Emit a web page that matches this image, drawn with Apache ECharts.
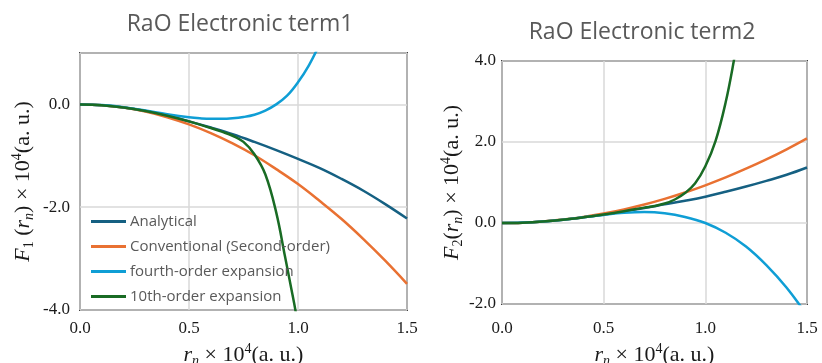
<!DOCTYPE html>
<html>
<head>
<meta charset="utf-8">
<script src="https://cdn.jsdelivr.net/npm/echarts@6.0.0/dist/echarts.min.js"></script>
<style>
html,body{margin:0;padding:0;background:#fff;}
#chart{width:822px;height:363px;}
</style>
</head>
<body>
<div id="chart"></div>
<script>
// ---------- data ----------
const titles = ['RaO Electronic term1', 'RaO Electronic term2'];
const seriesNames = ['Analytical', 'Conventional (Second-order)', 'fourth-order expansion', '10th-order expansion'];
const seriesColors = ['#156082', '#E97132', '#0F9ED5', '#196B24'];

const xTicks = [0.0, 0.5, 1.0, 1.5];
const yTicksLeft = [-4.0, -2.0, 0.0];
const yTicksRight = [-2.0, 0.0, 2.0, 4.0];

// term 1 (left)
const xLeft = [0, 0.1, 0.2, 0.3, 0.4, 0.5, 0.6, 0.7, 0.8, 0.9, 1.0, 1.1, 1.2, 1.3, 1.4, 1.5];
const analyticalLeft = [0, -0.015, -0.06, -0.13, -0.22, -0.33, -0.45, -0.58, -0.73, -0.89, -1.06, -1.24, -1.45, -1.68, -1.94, -2.22];
const conventionalLeft = [0, -0.016, -0.062, -0.14, -0.25, -0.39, -0.56, -0.76, -0.99, -1.26, -1.55, -1.88, -2.23, -2.62, -3.04, -3.49];
const fourthLeftX = [0, 0.1, 0.2, 0.3, 0.4, 0.5, 0.55, 0.6, 0.65, 0.7, 0.75, 0.8, 0.85, 0.9, 0.95, 1.0, 1.05, 1.1, 1.15];
const fourthLeft = [0, -0.014, -0.055, -0.12, -0.19, -0.25, -0.27, -0.28, -0.28, -0.27, -0.245, -0.2, -0.12, 0.0, 0.17, 0.43, 0.76, 1.18, 1.65];
const tenthLeftX = [0, 0.1, 0.2, 0.3, 0.4, 0.5, 0.6, 0.65, 0.7, 0.75, 0.8, 0.85, 0.9, 0.94, 0.97, 0.99, 1.01];
const tenthLeft = [0, -0.015, -0.06, -0.13, -0.22, -0.33, -0.46, -0.53, -0.61, -0.73, -0.97, -1.36, -2.1, -2.95, -3.6, -4.05, -4.6];

// term 2 (right)
const xRight = [0, 0.1, 0.2, 0.3, 0.4, 0.5, 0.6, 0.7, 0.8, 0.9, 1.0, 1.1, 1.2, 1.3, 1.4, 1.5];
const analyticalRight = [0, 0.009, 0.036, 0.08, 0.14, 0.21, 0.29, 0.37, 0.46, 0.55, 0.65, 0.77, 0.9, 1.04, 1.19, 1.37];
const conventionalRight = [0, 0.009, 0.037, 0.084, 0.149, 0.233, 0.335, 0.456, 0.595, 0.753, 0.93, 1.125, 1.34, 1.57, 1.82, 2.09];
const fourthRightX = [0, 0.1, 0.2, 0.3, 0.4, 0.5, 0.6, 0.7, 0.8, 0.9, 1.0, 1.1, 1.2, 1.3, 1.4, 1.5];
const fourthRight = [0, 0.01, 0.038, 0.083, 0.14, 0.2, 0.25, 0.27, 0.24, 0.15, 0.0, -0.24, -0.58, -1.04, -1.6, -2.28];
const tenthRightX = [0, 0.1, 0.2, 0.3, 0.4, 0.5, 0.6, 0.7, 0.75, 0.8, 0.85, 0.9, 0.95, 1.0, 1.05, 1.1, 1.14, 1.17];
const tenthRight = [0, 0.009, 0.036, 0.08, 0.14, 0.21, 0.29, 0.38, 0.42, 0.48, 0.58, 0.74, 0.98, 1.4, 2.02, 2.98, 4.0, 4.9];

// ---------- build ----------
const pairs = (xs, ys) => xs.map((x, i) => [x, ys[i]]);
const SERIF = '"Liberation Serif", "DejaVu Serif", serif';
const SANS = '"Open Sans", "Noto Sans", sans-serif';
const TXT = '#1a1a1a';

function nameRich(size) {
  return {
    n: { fontFamily: SERIF, fontSize: size, color: TXT, lineHeight: 26 },
    i: { fontFamily: SERIF, fontSize: size, fontStyle: 'italic', color: TXT, lineHeight: 26 },
    s: { fontFamily: SERIF, fontSize: Math.round(size * 0.65), color: TXT, verticalAlign: 'bottom', lineHeight: 14 },
    si: { fontFamily: SERIF, fontSize: Math.round(size * 0.65), fontStyle: 'italic', color: TXT, verticalAlign: 'bottom', lineHeight: 14 },
    p: { fontFamily: SERIF, fontSize: Math.round(size * 0.65), color: TXT, verticalAlign: 'top', lineHeight: 13 }
  };
}

const xName = '{i|r}{si|n}{n| × 10}{p|4}{n|(a. u.)}';
const yNameLeft = '{i|F}{s|1}{n| (}{i|r}{si|n}{n|) × 10}{p|4}{n|(a. u.)}';
const yNameRight = '{i|F}{s|2}{n|(}{i|r}{si|n}{n|) × 10}{p|4}{n|(a. u.)}';

const fmt = (allowed) => (v) => allowed.some(t => Math.abs(t - v) < 1e-9) ? v.toFixed(1) : '';

function xAxisCfg(gridIndex, margin, gap) {
  return {
    type: 'value', gridIndex, min: 0, max: 1.5, interval: 0.5,
    axisLine: { show: false }, axisTick: { show: false },
    axisLabel: { margin, fontFamily: SERIF, fontSize: 17, color: TXT, formatter: fmt(xTicks) },
    splitLine: { show: true, lineStyle: { color: '#d9d9d9', width: 1.5 } },
    name: xName, nameLocation: 'middle', nameGap: gap,
    nameTextStyle: { fontFamily: SERIF, fontSize: 22, color: TXT, rich: nameRich(22) }
  };
}
function yAxisCfg(gridIndex, min, max, ticks, name, margin, gap) {
  return {
    type: 'value', gridIndex, min, max, interval: 2,
    axisLine: { show: false }, axisTick: { show: false },
    axisLabel: { margin, fontFamily: SERIF, fontSize: 17, color: TXT, formatter: fmt(ticks) },
    splitLine: { show: true, lineStyle: { color: '#d9d9d9', width: 1.5 } },
    name, nameLocation: 'middle', nameRotate: 90, nameGap: gap,
    nameTextStyle: { fontFamily: SERIF, fontSize: 22, color: TXT, rich: nameRich(22) }
  };
}

function line(name, color, data, idx) {
  return {
    type: 'line', name, data, xAxisIndex: idx, yAxisIndex: idx,
    showSymbol: false, symbol: 'none', smooth: 0.4,
    clip: true, lineStyle: { color, width: 2.5 }, itemStyle: { color },
    emphasis: { disabled: true }, silent: true
  };
}

const leftData = [pairs(xLeft, analyticalLeft), pairs(xLeft, conventionalLeft), pairs(fourthLeftX, fourthLeft), pairs(tenthLeftX, tenthLeft)];
const rightData = [pairs(xRight, analyticalRight), pairs(xRight, conventionalRight), pairs(fourthRightX, fourthRight), pairs(tenthRightX, tenthRight)];

const series = [];
leftData.forEach((d, k) => series.push(line(seriesNames[k], seriesColors[k], d, 0)));
rightData.forEach((d, k) => series.push(line(seriesNames[k], seriesColors[k], d, 1)));

const option = {
  animation: false,
  backgroundColor: '#fff',
  title: [
    { text: titles[0], left: 240, top: 13, textAlign: 'center', padding: 0,
      textStyle: { fontFamily: SANS, fontSize: 23, fontWeight: 'normal', color: '#595959' } },
    { text: titles[1], left: 642, top: 21, textAlign: 'center', padding: 0,
      textStyle: { fontFamily: SANS, fontSize: 23, fontWeight: 'normal', color: '#595959' } }
  ],
  legend: {
    data: seriesNames, orient: 'vertical', left: 91, top: 209, padding: 0,
    icon: 'rect', itemWidth: 35, itemHeight: 3, itemGap: 0, selectedMode: false,
    textStyle: { fontFamily: SANS, fontSize: 15, color: '#595959', lineHeight: 25, padding: [0, 0, 0, -1] }
  },
  grid: [
    { left: 80, top: 53, width: 327, height: 257, show: true, borderColor: '#404040', borderWidth: 2, backgroundColor: 'transparent', containLabel: false, outerBoundsMode: 'none' },
    { left: 502, top: 61, width: 305, height: 243, show: true, borderColor: '#404040', borderWidth: 2, backgroundColor: 'transparent', containLabel: false, outerBoundsMode: 'none' }
  ],
  xAxis: [xAxisCfg(0, 10, 23), xAxisCfg(1, 16, 33)],
  yAxis: [
    yAxisCfg(0, -4, 1, yTicksLeft, yNameLeft, 10, 44),
    yAxisCfg(1, -2, 4, yTicksRight, yNameRight, 6, 37)
  ],
  series
};

const chart = echarts.init(document.getElementById('chart'), null, { renderer: 'canvas' });
chart.setOption(option);
</script>
</body>
</html>
